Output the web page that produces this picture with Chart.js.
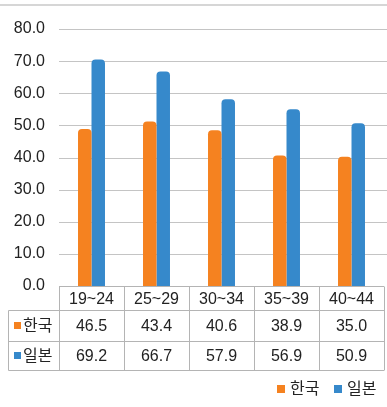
<!DOCTYPE html>
<html>
<head>
<meta charset="utf-8">
<script src="https://cdn.jsdelivr.net/npm/chart.js@4/dist/chart.umd.min.js"></script>
<style>
html,body{margin:0;padding:0;background:#fff;}
#wrap{position:relative;width:387px;height:407px;}
</style>
</head>
<body>
<div id="wrap"><canvas id="c" width="387" height="407"></canvas></div>
<script>
// ---- data ----
const categories = ['19~24', '25~29', '30~34', '35~39', '40~44'];
const seriesNames = ['한국', '일본'];
const koreaBars = [48.9, 51.2, 48.5, 40.6, 40.2];
const japanBars = [70.5, 66.8, 58.1, 55.0, 50.7];
const koreaTable = ['46.5', '43.4', '40.6', '38.9', '35.0'];
const japanTable = ['69.2', '66.7', '57.9', '56.9', '50.9'];
const yTicks = [0, 10, 20, 30, 40, 50, 60, 70, 80];

const ORANGE = '#F58220';
const BLUE = '#3689CB';
const FONT = '"Liberation Sans", Arial, "Noto Sans CJK KR", sans-serif';
const TEXT = '#222222';

const tablePlugin = {
  id: 'tablePlugin',
  beforeDatasetsDraw(chart) {
    const ctx = chart.ctx;
    const y = chart.scales.y;
    const area = chart.chartArea;
    ctx.save();
    // top border
    ctx.strokeStyle = '#d6d6d6';
    ctx.lineWidth = 2;
    ctx.beginPath(); ctx.moveTo(0, 5); ctx.lineTo(387, 5); ctx.stroke();
    // grid lines
    ctx.strokeStyle = '#c4c4c4';
    ctx.lineWidth = 1;
    yTicks.forEach(v => {
      if (v === 0) return;
      const py = Math.round(y.getPixelForValue(v)) + 0.5;
      ctx.beginPath(); ctx.moveTo(area.left, py); ctx.lineTo(387, py); ctx.stroke();
    });
    ctx.restore();
  },
  afterDraw(chart) {
    const ctx = chart.ctx;
    const x = chart.scales.x;
    const y = chart.scales.y;
    const area = chart.chartArea;
    const y0 = Math.round(y.getPixelForValue(0)) + 0.5;
    const rowH = [24, 31, 29];
    const r1 = y0 + rowH[0], r2 = r1 + rowH[1], r3 = r2 + rowH[2];
    const tableLeft = 8.5;
    const n = categories.length;
    const step = (area.right - area.left) / n;
    ctx.save();
    ctx.strokeStyle = '#b4b4b4';
    ctx.lineWidth = 1;
    // horizontal lines
    ctx.beginPath();
    ctx.moveTo(area.left, y0); ctx.lineTo(area.right, y0);
    ctx.moveTo(tableLeft, r1); ctx.lineTo(area.right, r1);
    ctx.moveTo(tableLeft, r2); ctx.lineTo(area.right, r2);
    ctx.moveTo(tableLeft, r3); ctx.lineTo(area.right, r3);
    // vertical lines
    for (let i = 0; i <= n; i++) {
      const px = Math.round(area.left + step * i) + 0.5;
      ctx.moveTo(px, y0); ctx.lineTo(px, r3);
    }
    ctx.moveTo(tableLeft, r1); ctx.lineTo(tableLeft, r3);
    ctx.stroke();

    ctx.fillStyle = TEXT;
    ctx.font = '16px ' + FONT;
    ctx.textAlign = 'center';
    ctx.textBaseline = 'middle';
    categories.forEach((c, i) => {
      const cx = x.getPixelForValue(i);
      ctx.fillText(c, cx, (y0 + r1) / 2 + 1);
      ctx.fillText(koreaTable[i], cx, (r1 + r2) / 2 + 1);
      ctx.fillText(japanTable[i], cx, (r2 + r3) / 2 + 1);
    });
    // row labels
    const rows = [[seriesNames[0], ORANGE, (r1 + r2) / 2], [seriesNames[1], BLUE, (r2 + r3) / 2]];
    ctx.textAlign = 'left';
    rows.forEach(([name, col, cy]) => {
      ctx.fillStyle = col;
      ctx.fillRect(14, Math.round(cy - 4), 7, 7);
      ctx.fillStyle = TEXT;
      ctx.fillText(name, 23, cy + 1);
    });
    // bottom legend
    const legY = 389;
    const legs = [[seriesNames[0], ORANGE, 277], [seriesNames[1], BLUE, 334]];
    legs.forEach(([name, col, lx]) => {
      ctx.fillStyle = col;
      ctx.fillRect(lx, legY - 4, 8, 8);
      ctx.fillStyle = TEXT;
      ctx.fillText(name, lx + 13, legY + 1);
    });
    ctx.restore();
  }
};

new Chart(document.getElementById('c'), {
  type: 'bar',
  data: {
    labels: categories,
    datasets: [
      { label: seriesNames[0], data: koreaBars, backgroundColor: ORANGE,
        borderRadius: { topLeft: 4, topRight: 4 }, borderSkipped: 'bottom' },
      { label: seriesNames[1], data: japanBars, backgroundColor: BLUE,
        borderRadius: { topLeft: 4, topRight: 4 }, borderSkipped: 'bottom' }
    ]
  },
  options: {
    responsive: false,
    animation: false,
    devicePixelRatio: 1,
    layout: { padding: { left: 0, right: 3, top: 29, bottom: 121 } },
    datasets: { bar: { categoryPercentage: 0.415, barPercentage: 1.0 } },
    plugins: { legend: { display: false }, tooltip: { enabled: false } },
    scales: {
      x: { display: false, offset: true },
      y: {
        min: 0, max: 80,
        afterFit(s) { s.width = 59; },
        afterBuildTicks(s) { s.ticks = yTicks.map(v => ({ value: v })); },
        grid: { display: false, drawTicks: false },
        border: { display: false },
        ticks: {
          padding: 14,
          color: TEXT,
          font: { family: FONT, size: 16 },
          callback: v => Number(v).toFixed(1)
        }
      }
    }
  },
  plugins: [tablePlugin]
});
</script>
</body>
</html>
